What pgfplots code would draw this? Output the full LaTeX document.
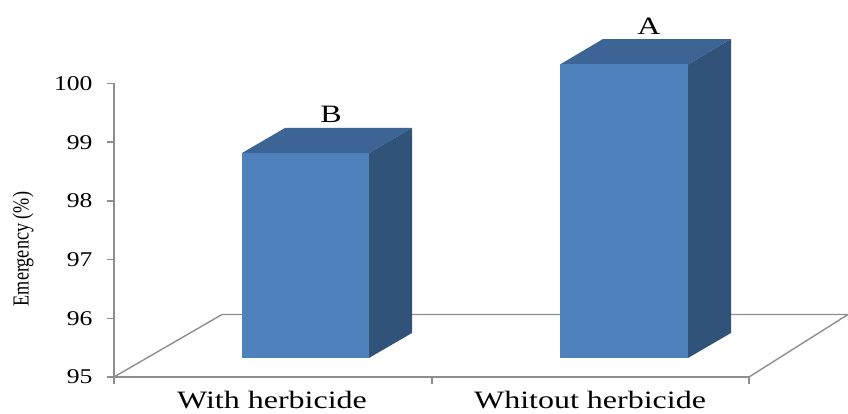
\documentclass[border=0pt]{standalone}
\usepackage{fontspec}
\usepackage{pgfplots}
\pgfplotsset{compat=1.18}
\setmainfont{Liberation Serif}
\newfontfamily\widefont[FakeStretch=1.28]{Liberation Serif}
\newfontfamily\tickfont[FakeStretch=1.22]{Liberation Serif}
\newfontfamily\narrowfont[FakeStretch=0.79]{Liberation Serif}
\definecolor{front}{HTML}{4F81BD}
\definecolor{topf}{HTML}{3C6494}
\definecolor{sidef}{HTML}{315279}
\definecolor{axisg}{HTML}{8E8E8E}
\begin{document}
\begin{tikzpicture}[x=1pt,y=1pt]
\path[use as bounding box] (0,0) rectangle (848,414);
\begin{axis}[
  at={(114pt,37pt)}, anchor=south west,
  scale only axis, width=635pt, height=293.5pt,
  xmin=114, xmax=749, ymin=95, ymax=100,
  clip=false,
  axis lines=left,
  axis line style={-, draw=axisg, line width=1.9pt},
  tick align=outside,
  ytick={95,96,97,98,99,100},
  xtick={272,590},
  xticklabels={With herbicide,Whitout herbicide},
  minor xtick={114,432,749},
  major x tick style={draw=none},
  minor x tick style={draw=axisg, line width=1.4pt},
  y tick style={draw=axisg, line width=1.4pt},
  minor tick length=7pt,
  major tick length=7pt,
  /pgf/number format/assume math mode=true,
  y tick label style={font=\tickfont\fontsize{21}{21}\selectfont, xshift=-11pt},
  x tick label style={font=\widefont\fontsize{25}{25}\selectfont, anchor=center, yshift=-16pt},
  ylabel={\narrowfont\fontsize{23}{23}\selectfont Emergency (\%)},
  y label style={at={(axis description cs:-0.143,0.436)}, anchor=center},
]
% floor
\addplot[draw=axisg, line width=1.4pt] coordinates {(114,95) (222,96.065) (848,96.065) (749,95)};
% bar 1
\addplot[fill=topf, draw=none] coordinates {(242,98.816) (285,99.242) (412,99.242) (369,98.816)} --cycle;
\addplot[fill=sidef, draw=none] coordinates {(369,95.324) (412,95.75) (412,99.242) (369,98.816)} --cycle;
\addplot[fill=front, draw=none] coordinates {(242,95.324) (369,95.324) (369,98.816) (242,98.816)} --cycle;
% bar 2
\addplot[fill=topf, draw=none] coordinates {(560,100.324) (603,100.758) (731,100.758) (688,100.324)} --cycle;
\addplot[fill=sidef, draw=none] coordinates {(688,95.324) (731,95.75) (731,100.758) (688,100.324)} --cycle;
\addplot[fill=front, draw=none] coordinates {(560,95.324) (688,95.324) (688,100.324) (560,100.324)} --cycle;
\node[font=\widefont\fontsize{25}{25}\selectfont, anchor=center] at (axis cs:331,99.47) {B};
\node[font=\widefont\fontsize{25}{25}\selectfont, anchor=center] at (axis cs:649,100.97) {A};
\end{axis}
\end{tikzpicture}
\end{document}
